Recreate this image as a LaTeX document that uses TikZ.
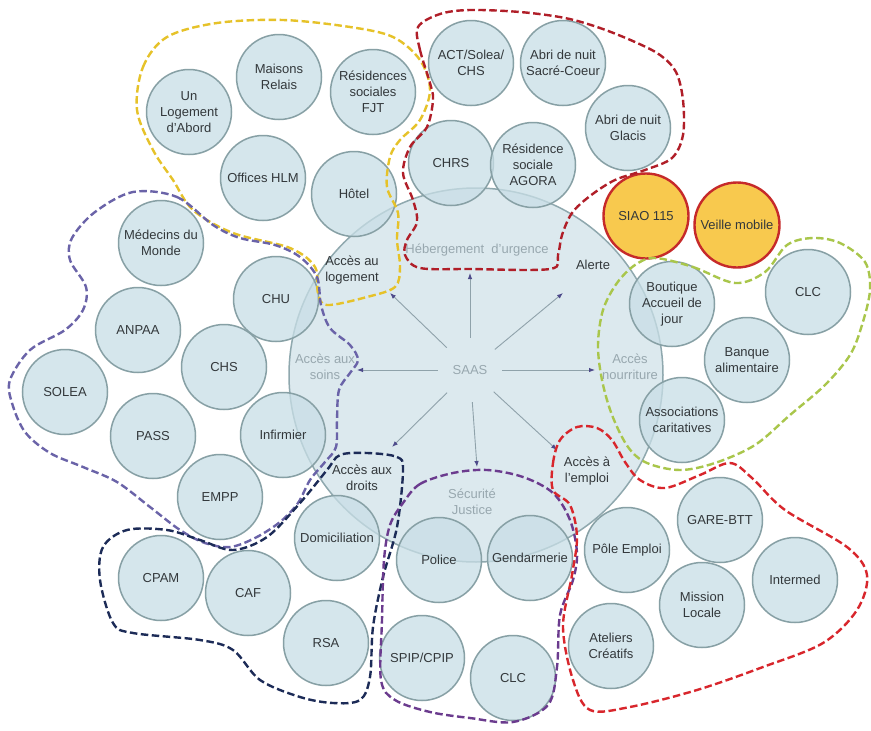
\documentclass[tikz,border=0pt]{standalone}
\usepackage{fontspec}
\setmainfont{Liberation Sans}
\usetikzlibrary{arrows.meta}
\definecolor{ringfill}{HTML}{DCE9EE}
\definecolor{ringline}{HTML}{8FA8AE}
\definecolor{unitfill}{HTML}{C8DEE6}
\definecolor{unitline}{HTML}{87A0A5}
\definecolor{inktext}{HTML}{33383B}
\definecolor{greytext}{HTML}{98A8AF}
\definecolor{spokeline}{HTML}{8FA2AA}
\definecolor{tipcolor}{HTML}{4D4A8A}
\definecolor{alertfill}{HTML}{F8C53F}
\definecolor{alertline}{HTML}{C62A2A}
\definecolor{grpyellow}{HTML}{E6C229}
\definecolor{grpdarkred}{HTML}{B01E28}
\definecolor{grpbluepurple}{HTML}{6A63A8}
\definecolor{grpnavy}{HTML}{1C2B57}
\definecolor{grpviolet}{HTML}{6B3B8E}
\definecolor{grpred}{HTML}{D8262C}
\definecolor{grpgreen}{HTML}{A9C64B}

\begin{document}
\begin{tikzpicture}[x=1pt,y=-1pt,
    font=\fontsize{13}{16}\selectfont,
    hub/.style={circle,draw=ringline,line width=1.5pt,fill=ringfill,minimum size=374pt,inner sep=0pt},
    unit/.style={circle,draw=unitline,line width=1.5pt,fill=unitfill,fill opacity=0.75,text opacity=1,
      text=inktext,minimum size=85pt,inner sep=0pt,align=center},
    alertunit/.style={unit,draw=alertline,fill=alertfill,fill opacity=0.92,line width=2.4pt},
    darklabel/.style={text=inktext,align=center,inner sep=1pt},
    greylabel/.style={text=greytext,align=center,inner sep=1pt},
    spoke/.style={draw=spokeline,line width=0.9pt,-{Latex[length=6pt,width=4.5pt,color=tipcolor]}},
    grp/.style={line width=2.4pt,dash pattern=on 7.5pt off 3.5pt}]
  \useasboundingbox (0,0) rectangle (871,731);
  \fill[white] (0,0) rectangle (871,731);

  \node[hub] (ring) at (476,375) {};
  \node[greylabel,circle,minimum size=64pt] (saas) at (470,370) {SAAS};

  \coordinate (tiplogement) at (390,293);
  \coordinate (tipurgence) at (470,273);
  \coordinate (tipalerte) at (563,293);
  \coordinate (tipnourriture) at (595,370);
  \coordinate (tipemploi) at (557,450);
  \coordinate (tipjustice) at (477,467);
  \coordinate (tipdroits) at (392,447);
  \coordinate (tipsoins) at (357,370);
  \foreach \t in {logement, urgence, alerte, nourriture, emploi, justice, droits, soins}{
    \draw[spoke] (saas) -- (tip\t);
  }

  \node[darklabel] (lbllogement) at (352,270) {Accès au\\logement};
  \node[greylabel] (lblurgence) at (477,250) {Hébergement\ \ d'urgence};
  \node[darklabel] (lblalerte) at (593,265) {Alerte};
  \node[greylabel] (lblsoins) at (325,367) {Accès aux\\soins};
  \node[greylabel] (lblnourriture) at (630,367) {Accès\\nourriture};
  \node[darklabel] (lbldroits) at (362,478) {Accès aux\\droits};
  \node[greylabel] (lbljustice) at (472,502) {Sécurité\\Justice};
  \node[darklabel] (lblemploi) at (587,471) {Accès à\\l'emploi};

  \foreach \px/\py/\nm/\txt in {
      189/112/logement/{Un\\Logement\\d'Abord}, 279/77/maisons/{Maisons\\Relais},
      373/92/fjt/{Résidences\\sociales\\FJT}, 263/178/hlm/{Offices HLM}, 354/194/hotel/{Hôtel},
      471/63/act/{ACT/Solea/\\CHS}, 563/63/sacrecoeur/{Abri de nuit\\Sacré-Coeur},
      628/128/glacis/{Abri de nuit\\Glacis}, 451/163/chrs/{CHRS}, 533/165/agora/{Résidence\\sociale\\AGORA},
      672/304/boutique/{Boutique\\Accueil de\\jour}, 808/292/clcnord/{CLC},
      747/360/banque/{Banque\\alimentaire}, 682/420/assoc/{Associations\\caritatives},
      161/243/medecins/{Médecins du\\Monde}, 276/299/chu/{CHU}, 138/330/anpaa/{ANPAA},
      224/367/chs/{CHS}, 65/392/solea/{SOLEA}, 153/436/pass/{PASS}, 283/435/infirmier/{Infirmier},
      220/497/empp/{EMPP}, 337/538/domic/{Domiciliation}, 161/578/cpam/{CPAM}, 248/593/caf/{CAF},
      326/643/rsa/{RSA}, 439/560/police/{Police}, 530/558/gendarmerie/{Gendarmerie},
      422/658/spip/{SPIP/CPIP}, 513/678/clcsud/{CLC}, 627/550/pole/{Pôle Emploi},
      720/520/gare/{GARE-BTT}, 795/580/intermed/{Intermed}, 702/605/mission/{Mission\\Locale},
      611/646/ateliers/{Ateliers\\Créatifs}}{
    \node[unit] (\nm) at (\px,\py) {\txt};
  }
  \node[alertunit] (siao) at (646,216) {SIAO 115};
  \node[alertunit] (veille) at (737,225) {Veille mobile};

  \draw[grp,grpyellow] plot[smooth cycle,tension=0.55] coordinates {
    (137,110) (143,67) (167,37) (217,23) (283,20) (350,27) (393,37) (420,60) (430,90)
    (420,120) (400,140) (390,157) (387,187) (398,213) (397,240) (400,267) (395,287)
    (367,297) (327,305) (318,293) (315,267) (290,248) (233,233) (193,210) (173,180) (153,150)};
  \draw[grp,grpdarkred] plot[smooth cycle,tension=0.55] coordinates {
    (418,27) (420,50) (430,83) (433,100) (427,127) (410,147) (403,173) (413,200) (417,222)
    (407,240) (405,255) (420,268) (470,269) (550,269) (558,255) (562,235) (572,213)
    (590,196) (615,180) (645,170) (672,158) (683,135) (683,100) (676,72) (660,55)
    (635,42) (600,28) (565,18) (520,12) (470,10) (440,14)};
  \draw[grp,grpbluepurple] plot[smooth cycle,tension=0.55] coordinates {
    (133,192) (177,197) (213,225) (240,238) (275,245) (300,257) (317,277) (321,305)
    (330,328) (350,345) (358,360) (350,373) (339,390) (337,420) (336,447) (325,462)
    (310,480) (298,503) (280,522) (255,538) (230,547) (205,543) (180,530) (150,507)
    (117,482) (83,467) (50,453) (25,432) (12,403) (10,380) (30,350) (65,330) (83,310)
    (86,287) (70,260) (72,238) (95,212)};
  \draw[grp,grpnavy] plot[smooth cycle,tension=0.55] coordinates {
    (367,453) (397,457) (403,470) (397,527) (383,577) (373,627) (370,677) (360,700)
    (333,703) (300,697) (260,680) (233,650) (200,640) (133,633) (113,623) (100,580)
    (103,547) (127,530) (167,530) (200,540) (233,550) (267,537) (300,503) (327,470) (340,455)};
  \draw[grp,grpviolet] plot[smooth cycle,tension=0.55] coordinates {
    (403,503) (420,484) (453,473) (487,470) (523,477) (553,493) (570,520) (577,553)
    (573,580) (560,615) (557,667) (548,705) (513,722) (470,718) (430,712) (395,700)
    (381,680) (382,620) (384,560) (390,525)};
  \draw[grp,grpred] plot[smooth cycle,tension=0.55] coordinates {
    (553,490) (553,463) (560,440) (577,427) (597,428) (612,440) (625,462) (640,480)
    (665,488) (700,475) (730,463) (752,478) (785,510) (847,547) (867,575) (857,610)
    (823,643) (763,667) (697,690) (630,707) (590,710) (573,680) (563,627) (572,575)
    (577,537) (570,505)};
  \draw[grp,grpgreen] plot[smooth cycle,tension=0.55] coordinates {
    (655,258) (693,267) (735,283) (765,272) (787,245) (813,238) (840,243) (865,262)
    (870,290) (862,325) (850,355) (825,385) (790,415) (755,445) (715,463) (680,470)
    (647,463) (628,447) (612,415) (602,380) (598,345) (603,310) (617,283) (635,265)};
\end{tikzpicture}
\end{document}
